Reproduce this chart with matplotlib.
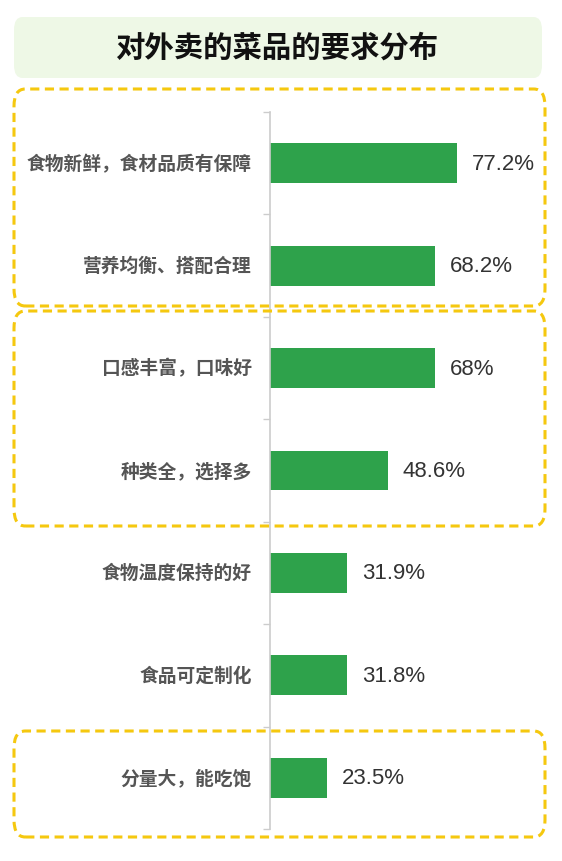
import matplotlib.pyplot as plt
from matplotlib.patches import FancyBboxPatch

plt.rcParams['font.family'] = ['Noto Sans CJK SC', 'DejaVu Sans']

categories = ['食物新鲜，食材品质有保障', '营养均衡、搭配合理', '口感丰富，口味好',
              '种类全，选择多', '食物温度保持的好', '食品可定制化', '分量大，能吃饱']
values = [77.2, 68.2, 68, 48.6, 31.9, 31.8, 23.5]
title = '对外卖的菜品的要求分布'

W, H = 562, 862
fig = plt.figure(figsize=(W / 100, H / 100), dpi=100)


def fx(px):
    return px / W


def fy(py):
    return 1 - py / H


# title banner
banner = FancyBboxPatch((fx(14), fy(79)), fx(542) - fx(14), fy(18) - fy(79),
                        boxstyle='round,pad=0,rounding_size=0.015',
                        transform=fig.transFigure, facecolor='#eef8e6',
                        edgecolor='none', zorder=0)
fig.patches.append(banner)
fig.text(fx(277), fy(48), title, ha='center', va='center', fontsize=21.2,
         fontweight='bold', color='#111111')

# axes
ax = fig.add_axes([fx(270), fy(830), fx(545) - fx(270), fy(113) - fy(830)])
y = list(range(len(categories)))
ax.barh(y, values, height=0.39, color='#2ea24b', zorder=2)
ax.set_ylim(len(categories) - 0.5, -0.5)
ax.set_xlim(0, 113.6)
for s in ['top', 'right', 'bottom']:
    ax.spines[s].set_visible(False)
ax.spines['left'].set_color('#cccccc')
ax.spines['left'].set_linewidth(1.2)
ax.set_xticks([])
ax.set_yticks([i - 0.5 for i in range(len(categories) + 1)])
ax.set_yticklabels([])
ax.tick_params(axis='y', length=5, color='#cccccc', width=1)
ax.patch.set_alpha(0)

for i, (c, v) in enumerate(zip(categories, values)):
    ax.text(-7.5, i, c, ha='right', va='center', fontsize=13.5,
            fontweight='bold', color='#555555')
    ax.text(v + 6.2, i, f'{v:g}%', ha='left', va='center', fontsize=16,
            family=['Liberation Sans', 'DejaVu Sans'], color='#333333')

# highlight boxes
for top, bot in [(90, 307), (312, 527), (732, 838)]:
    box = FancyBboxPatch((fx(14), fy(bot)), fx(545) - fx(14), fy(top) - fy(bot),
                         boxstyle='round,pad=0,rounding_size=0.02',
                         transform=fig.transFigure, facecolor='none',
                         edgecolor='#f5c80f', linewidth=2.2,
                         linestyle=(0, (3, 1.8)), zorder=5)
    fig.patches.append(box)

fig.savefig('out.png', dpi=100, facecolor='white')
